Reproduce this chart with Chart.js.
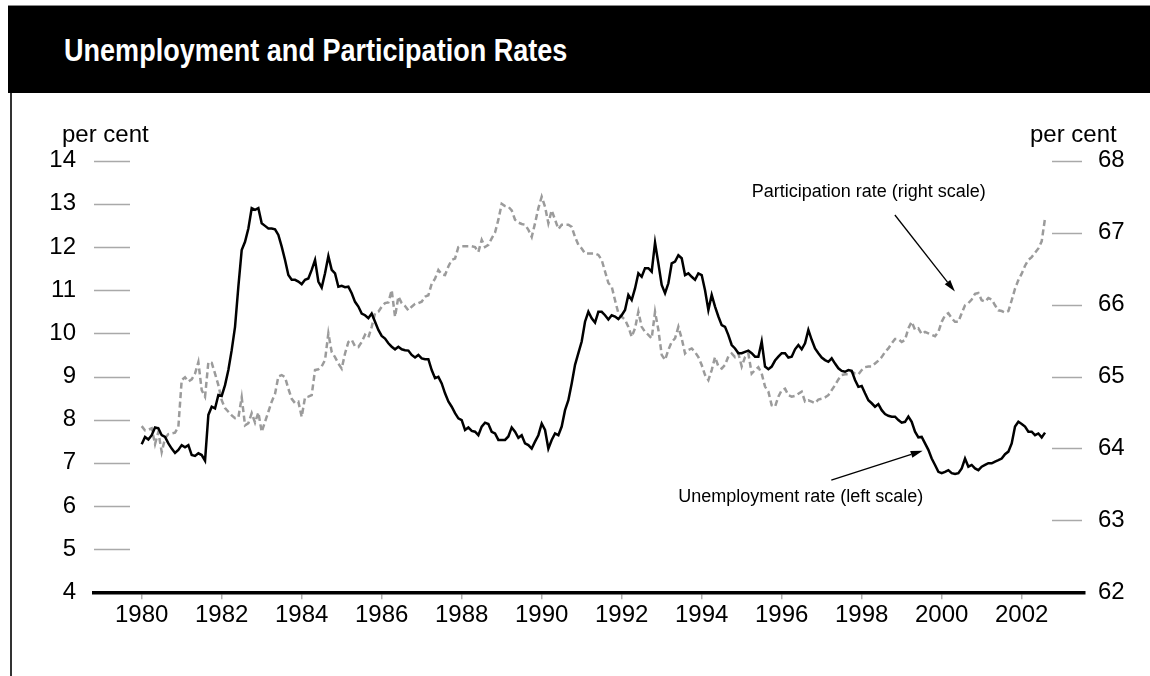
<!DOCTYPE html>
<html>
<head>
<meta charset="utf-8">
<title>Unemployment and Participation Rates</title>
<script src="https://cdn.jsdelivr.net/npm/chart.js@4.4.1/dist/chart.umd.min.js"></script>
<style>
  html, body { margin: 0; padding: 0; background: #fff; }
  body { width: 1150px; height: 676px; position: relative; overflow: hidden; }
  #titlebar { position: absolute; left: 8px; top: 5px; width: 1142px; height: 88px; background: #000; border-top: 1px solid #888; box-sizing: border-box; }
  #titlebar h1 { position: absolute; left: 56px; top: 28px; margin: 0; white-space: nowrap;
    font: bold 32px "Liberation Sans", Arial, sans-serif; line-height: 1; color: #fff;
    transform: scaleX(0.845); transform-origin: 0 0; }
  #frame { position: absolute; left: 10px; top: 93px; width: 1.5px; height: 583px; background: #333; }
  #chart { position: absolute; left: 0; top: 0; }
</style>
</head>
<body>
<div id="titlebar"><h1>Unemployment and Participation Rates</h1></div>
<div id="frame"></div>
<canvas id="chart" width="1150" height="676"></canvas>
<script>
// monthly data, January 1980 onwards
const START_YEAR = 1980;

// unemployment rate, per cent (left scale)
const unemployment = [
  7.43, 7.60, 7.54, 7.64, 7.82, 7.80, 7.64, 7.60, 7.45, 7.33, 7.23, 7.30,   // 1980
  7.41, 7.36, 7.41, 7.18, 7.16, 7.22, 7.18, 7.05, 8.11, 8.30, 8.26, 8.57,   // 1981
  8.55, 8.80, 9.15, 9.61, 10.15, 11.08, 11.93, 12.12, 12.43, 12.90, 12.86, 12.90, // 1982
  12.55, 12.49, 12.43, 12.43, 12.41, 12.28, 12.01, 11.70, 11.35, 11.24, 11.24, 11.20, // 1983
  11.14, 11.24, 11.27, 11.47, 11.70, 11.20, 11.06, 11.39, 11.79, 11.47, 11.39, 11.08, // 1984
  11.10, 11.07, 11.08, 10.93, 10.73, 10.62, 10.46, 10.42, 10.35, 10.46, 10.27, 10.08, // 1985
  9.94, 9.88, 9.77, 9.69, 9.63, 9.69, 9.63, 9.61, 9.60, 9.50, 9.44, 9.50,   // 1986
  9.42, 9.40, 9.40, 9.15, 8.96, 8.99, 8.84, 8.61, 8.42, 8.30, 8.15, 8.03,   // 1987
  7.99, 7.76, 7.82, 7.74, 7.72, 7.64, 7.84, 7.93, 7.90, 7.72, 7.68, 7.53,   // 1988
  7.53, 7.53, 7.61, 7.82, 7.72, 7.58, 7.64, 7.45, 7.41, 7.33, 7.49, 7.64,   // 1989
  7.91, 7.76, 7.33, 7.53, 7.68, 7.64, 7.84, 8.22, 8.45, 8.84, 9.27, 9.54,   // 1990
  9.81, 10.27, 10.50, 10.35, 10.25, 10.50, 10.50, 10.42, 10.32, 10.42, 10.39, 10.33, // 1991
  10.42, 10.54, 10.89, 10.77, 11.04, 11.39, 11.31, 11.51, 11.51, 11.43, 12.10, 11.62, // 1992
  11.12, 10.93, 11.16, 11.62, 11.66, 11.81, 11.74, 11.35, 11.39, 11.31, 11.24, 11.39, // 1993
  11.35, 11.00, 10.54, 10.89, 10.62, 10.39, 10.19, 10.15, 9.96, 9.73, 9.65, 9.54, // 1994
  9.54, 9.57, 9.60, 9.54, 9.46, 9.46, 9.81, 9.23, 9.17, 9.23, 9.37, 9.46,   // 1995
  9.54, 9.54, 9.44, 9.46, 9.63, 9.73, 9.63, 9.77, 10.08, 9.85, 9.65, 9.54,  // 1996
  9.44, 9.38, 9.34, 9.42, 9.30, 9.19, 9.13, 9.11, 9.15, 9.13, 8.92, 8.76,   // 1997
  8.78, 8.61, 8.45, 8.38, 8.30, 8.36, 8.22, 8.13, 8.09, 8.07, 8.07, 7.99,   // 1998
  7.93, 7.95, 8.07, 7.95, 7.72, 7.59, 7.60, 7.45, 7.30, 7.10, 6.95, 6.79,   // 1999
  6.76, 6.79, 6.83, 6.76, 6.74, 6.76, 6.87, 7.10, 6.91, 6.95, 6.87, 6.83,   // 2000
  6.91, 6.95, 6.99, 6.99, 7.03, 7.06, 7.10, 7.20, 7.26, 7.45, 7.84, 7.95,   // 2001
  7.90, 7.84, 7.72, 7.72, 7.64, 7.68, 7.59, 7.70                            // 2002
];

// participation rate, per cent (right scale)
const participation = [
  64.31, 64.25, 64.26, 64.28, 64.06, 64.23, 63.95, 64.14, 64.20, 64.21, 64.22, 64.30, // 1980
  64.95, 64.99, 64.93, 64.96, 65.04, 65.20, 64.81, 64.72, 65.20, 65.19, 65.04, 64.88, // 1981
  64.67, 64.56, 64.51, 64.46, 64.42, 64.43, 64.71, 64.32, 64.35, 64.49, 64.36, 64.50, // 1982
  64.23, 64.37, 64.51, 64.65, 64.76, 65.00, 65.02, 64.99, 64.83, 64.69, 64.63, 64.65, // 1983
  64.44, 64.71, 64.72, 64.74, 65.09, 65.10, 65.14, 65.23, 65.60, 65.34, 65.27, 65.18, // 1984
  65.11, 65.32, 65.48, 65.51, 65.42, 65.41, 65.48, 65.58, 65.54, 65.69, 65.88, 65.90, // 1985
  65.97, 66.02, 66.03, 66.20, 65.83, 66.11, 66.02, 65.98, 65.92, 65.97, 66.01, 66.02, // 1986
  66.04, 66.11, 66.13, 66.29, 66.36, 66.48, 66.42, 66.41, 66.53, 66.62, 66.64, 66.80, // 1987
  66.81, 66.81, 66.81, 66.81, 66.80, 66.73, 66.90, 66.80, 66.83, 66.92, 67.00, 67.18, // 1988
  67.40, 67.37, 67.36, 67.31, 67.18, 67.14, 67.12, 67.11, 67.04, 66.94, 67.13, 67.34, // 1989
  67.50, 67.36, 67.13, 67.31, 67.18, 67.05, 67.11, 67.11, 67.11, 67.08, 66.94, 66.83, // 1990
  66.78, 66.71, 66.71, 66.71, 66.71, 66.69, 66.62, 66.46, 66.30, 66.25, 66.06, 65.88, // 1991
  65.83, 65.79, 65.69, 65.55, 65.67, 65.90, 65.69, 65.62, 65.58, 65.53, 65.90, 65.65, // 1992
  65.30, 65.23, 65.37, 65.48, 65.53, 65.69, 65.53, 65.32, 65.37, 65.39, 65.34, 65.27, // 1993
  65.16, 65.02, 64.95, 65.09, 65.27, 65.14, 65.11, 65.16, 65.28, 65.32, 65.27, 65.32, // 1994
  65.14, 65.27, 65.32, 65.04, 65.09, 65.13, 65.04, 64.86, 64.79, 64.60, 64.58, 64.72, // 1995
  64.81, 64.83, 64.74, 64.72, 64.73, 64.76, 64.79, 64.65, 64.67, 64.65, 64.63, 64.68, // 1996
  64.69, 64.71, 64.74, 64.81, 64.88, 64.96, 65.02, 65.03, 65.03, 65.07, 65.04, 65.03, // 1997
  65.09, 65.13, 65.14, 65.14, 65.18, 65.22, 65.27, 65.34, 65.39, 65.46, 65.52, 65.52, // 1998
  65.48, 65.51, 65.67, 65.76, 65.65, 65.67, 65.59, 65.62, 65.60, 65.58, 65.56, 65.62, // 1999
  65.76, 65.85, 65.88, 65.81, 65.76, 65.76, 65.88, 65.99, 66.02, 66.07, 66.15, 66.16, // 2000
  66.06, 66.04, 66.09, 66.07, 65.99, 65.92, 65.91, 65.89, 65.91, 66.06, 66.22, 66.34, // 2001
  66.43, 66.54, 66.62, 66.66, 66.72, 66.78, 66.88, 67.20                              // 2002
];

const xTicks = [1980, 1982, 1984, 1986, 1988, 1990, 1992, 1994, 1996, 1998, 2000, 2002];
const leftRange = [4, 14];
const rightRange = [62, 68];

const FONT = '"Liberation Sans", Arial, Helvetica, sans-serif';

const toPoints = arr => arr.map((v, i) => ({ x: START_YEAR + i / 12, y: v }));

// annotation labels with arrows, placed in data units
const notes = [
  { text: 'Participation rate (right scale)', axis: 'y2', x: 1995.25, y: 67.5, align: 'left',
    arrow: [1998.83, 67.245, 2000.33, 66.18] },
  { text: 'Unemployment rate (left scale)', axis: 'y', x: 1999.54, y: 6.10, align: 'right',
    arrow: [1997.24, 6.60, 1999.525, 7.28] }
];

function drawArrow(ctx, x1, y1, x2, y2) {
  const ang = Math.atan2(y2 - y1, x2 - x1);
  const head = 12, half = 3.5;
  ctx.beginPath();
  ctx.moveTo(x1, y1);
  ctx.lineTo(x2 - Math.cos(ang) * head, y2 - Math.sin(ang) * head);
  ctx.stroke();
  ctx.beginPath();
  ctx.moveTo(x2, y2);
  ctx.lineTo(x2 - Math.cos(ang) * head - Math.sin(ang) * half, y2 - Math.sin(ang) * head + Math.cos(ang) * half);
  ctx.lineTo(x2 - Math.cos(ang) * head + Math.sin(ang) * half, y2 - Math.sin(ang) * head - Math.cos(ang) * half);
  ctx.closePath();
  ctx.fill();
}

const decor = {
  id: 'decor',
  beforeDatasetsDraw(chart) {
    const ctx = chart.ctx, area = chart.chartArea;
    ctx.save();
    ctx.strokeStyle = '#a9a9a9';
    ctx.lineWidth = 1.5;
    // short grey tick marks inside the plot at each axis value
    chart.scales.y.ticks.forEach(t => {
      if (t.value === leftRange[0]) return;
      const y = Math.round(chart.scales.y.getPixelForValue(t.value)) + 0.5;
      ctx.beginPath(); ctx.moveTo(area.left, y); ctx.lineTo(area.left + 36, y); ctx.stroke();
    });
    chart.scales.y2.ticks.forEach(t => {
      if (t.value === rightRange[0]) return;
      const y = Math.round(chart.scales.y2.getPixelForValue(t.value)) + 0.5;
      ctx.beginPath(); ctx.moveTo(area.right - 33, y); ctx.lineTo(area.right - 3, y); ctx.stroke();
    });
    ctx.restore();
  },
  afterDatasetsDraw(chart) {
    const ctx = chart.ctx, area = chart.chartArea;
    ctx.save();
    ctx.fillStyle = '#000';
    ctx.textBaseline = 'alphabetic';
    ctx.font = '24px ' + FONT;
    ctx.textAlign = 'left';
    ctx.fillText('per cent', 62, area.top - 19);
    ctx.fillText('per cent', 1030, area.top - 19);

    ctx.font = '18px ' + FONT;
    ctx.strokeStyle = '#000';
    ctx.lineWidth = 1.3;
    const xs = chart.scales.x;
    notes.forEach(n => {
      const ys = chart.scales[n.axis];
      ctx.textAlign = n.align;
      ctx.fillText(n.text, xs.getPixelForValue(n.x), ys.getPixelForValue(n.y));
      const a = n.arrow;
      drawArrow(ctx, xs.getPixelForValue(a[0]), ys.getPixelForValue(a[1]),
                     xs.getPixelForValue(a[2]), ys.getPixelForValue(a[3]));
    });
    ctx.restore();
  }
};

new Chart(document.getElementById('chart'), {
  type: 'line',
  data: {
    datasets: [
      {
        label: 'Unemployment rate (left scale)',
        data: toPoints(unemployment),
        yAxisID: 'y',
        borderColor: '#000',
        borderWidth: 2.5,
        pointRadius: 0,
        tension: 0,
        fill: false
      },
      {
        label: 'Participation rate (right scale)',
        data: toPoints(participation),
        yAxisID: 'y2',
        borderColor: '#9b9b9b',
        borderWidth: 2.5,
        borderDash: [6, 3.5],
        pointRadius: 0,
        tension: 0,
        fill: false
      }
    ]
  },
  options: {
    responsive: false,
    animation: false,
    layout: { padding: { top: 160.7, left: 0, right: 0, bottom: 0 } },
    plugins: { legend: { display: false }, tooltip: { enabled: false }, title: { display: false } },
    scales: {
      x: {
        type: 'linear',
        min: 1978.8075,
        max: 2003.5825,
        afterBuildTicks: s => { s.ticks = xTicks.map(v => ({ value: v })); },
        afterFit: s => { s.height = 83.7; },
        ticks: { font: { family: FONT, size: 24 }, color: '#000', padding: 2, maxRotation: 0,
                 callback: v => String(v) },
        grid: { drawOnChartArea: false, drawTicks: true, tickLength: 7, color: '#b0b0b0', lineWidth: 1.5 },
        border: { display: true, color: '#000', width: 3.5 }
      },
      y: {
        position: 'left',
        min: leftRange[0],
        max: leftRange[1],
        afterFit: s => { s.width = 94; },
        ticks: { stepSize: 1, font: { family: FONT, size: 24 }, color: '#000', padding: 10 },
        grid: { display: false },
        border: { display: false }
      },
      y2: {
        position: 'right',
        min: rightRange[0],
        max: rightRange[1],
        afterFit: s => { s.width = 65; },
        ticks: { stepSize: 1, font: { family: FONT, size: 24 }, color: '#000', padding: 5 },
        grid: { display: false },
        border: { display: false }
      }
    }
  },
  plugins: [decor]
});
</script>
</body>
</html>
